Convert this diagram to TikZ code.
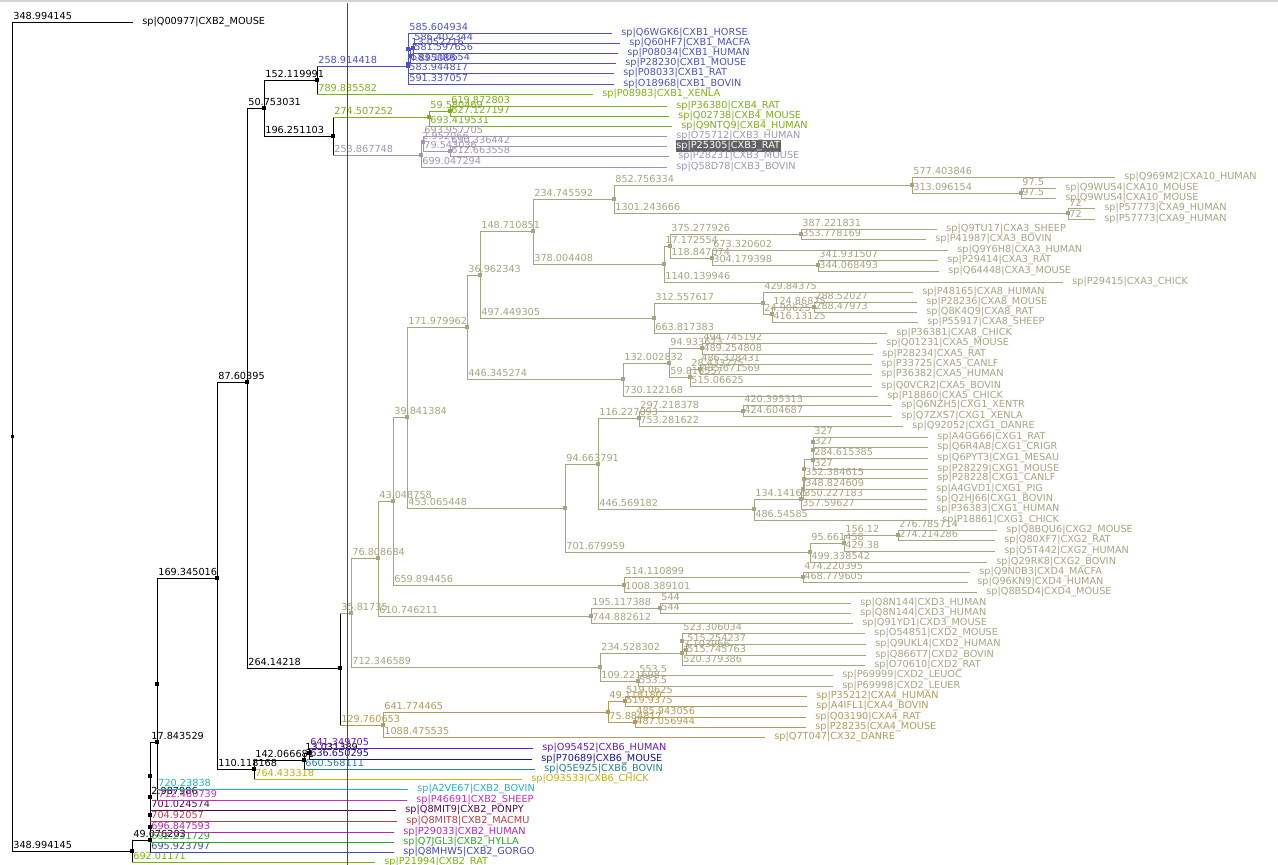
\documentclass[tikz,border=0pt]{standalone}
\usepackage{fontspec}
\setmainfont{DejaVu Sans}
\usetikzlibrary{positioning}
% clade colours
\definecolor{olv}{RGB}{165,165,130}
\definecolor{tan}{RGB}{180,155,90}
\definecolor{cxbone}{RGB}{80,80,190}
\definecolor{grn}{RGB}{125,180,15}
\definecolor{cxbfour}{RGB}{130,170,30}
\definecolor{lav}{RGB}{160,150,180}
\definecolor{bsixh}{RGB}{110,20,200}
\definecolor{bsixm}{RGB}{20,20,160}
\definecolor{bsixb}{RGB}{40,130,140}
\definecolor{bsixc}{RGB}{190,175,20}
\definecolor{btwobov}{RGB}{30,180,190}
\definecolor{btwoshp}{RGB}{195,45,195}
\definecolor{btwopon}{RGB}{80,10,80}
\definecolor{btwomac}{RGB}{190,60,70}
\definecolor{btwohum}{RGB}{180,40,180}
\definecolor{btwohyl}{RGB}{40,170,30}
\definecolor{btwogor}{RGB}{70,70,190}
\definecolor{btworat}{RGB}{120,180,0}
\newcommand\treefont{\fontsize{9.7}{11}\selectfont}
\tikzset{
  blen/.style={anchor=south west,inner sep=0pt,xshift=1pt,yshift=1.5pt,font=\treefont},
  leaftxt/.style={anchor=west,inner xsep=0.5pt,inner ysep=1pt,xshift=8.5pt,font=\treefont},
}
% branch: parent, child, colour, length
\newcommand\br[4]{\draw[#3] (#1) |- (#2); \node[blen,text=#3] at (#1 |- #2) {#4};}
% branch with black vertical
\newcommand\brk[4]{\draw (#1) -- (#1 |- #2); \draw[#3] (#1 |- #2) -- (#2); \node[blen,text=#3] at (#1 |- #2) {#4};}
% leaf: [extra], name, x, y, colour, text
\newcommand\leaf[6][]{\coordinate (#2) at (#3,#4); \node[leaftxt,text=#5,#1] (#2-t) at (#2) {#6};}

\begin{document}
\begin{tikzpicture}[x=1pt,y=-1pt,line width=0.8pt]
\useasboundingbox (0,0) rectangle (1278,865);
\draw[gray!35,line width=2pt] (0,0.5) -- (1278,0.5);

% internal nodes
\coordinate (r0) at (12,436);
\coordinate (n1) at (132,851);
\coordinate (n2) at (150,840);
\coordinate (n3) at (150,827);
\coordinate (n4) at (150,815);
\coordinate (n5) at (150,797);
\coordinate (n6) at (150,776);
\coordinate (n7) at (157,742);
\coordinate (n8) at (157,684);
\coordinate (p217) at (217,578);
\coordinate (p247) at (247,382);
\coordinate (p264) at (264,108);
\coordinate (c1) at (317,80);
\coordinate (c2) at (333,136);
\coordinate (p340) at (340,668);
\coordinate (p254) at (254,769);
\coordinate (p304) at (304,760);
\coordinate (p309) at (309,753);
\coordinate (b0) at (408,66);
\coordinate (ba) at (408,48.5);
\coordinate (bd) at (408,64);
\coordinate (bb) at (410,55.5);
\coordinate (bm) at (413,48);
\coordinate (g0) at (429,117);
\coordinate (g1) at (450,111);
\coordinate (l0) at (421,155);
\coordinate (l1) at (423,142);
\coordinate (l2) at (450,151);
\coordinate (o0) at (351,613);
\coordinate (o1) at (378,558);
\coordinate (o2) at (600,667);
\coordinate (o3) at (393,501);
\coordinate (o4) at (591,616);
\coordinate (o5) at (407,417);
\coordinate (o6) at (624,585);
\coordinate (o7) at (467,327);
\coordinate (o8) at (565,508);
\coordinate (o9) at (480,275);
\coordinate (o10) at (623,379);
\coordinate (o11) at (533,231);
\coordinate (o12) at (654,318);
\coordinate (o13) at (614,199);
\coordinate (o14) at (664,264);
\coordinate (o15) at (912,185);
\coordinate (o16) at (1068,213);
\coordinate (o17) at (1021,193);
\coordinate (o18) at (670,246);
\coordinate (o19) at (801,234);
\coordinate (o20) at (712,258);
\coordinate (o21) at (818,265);
\coordinate (o22) at (763,303);
\coordinate (o23) at (772,314);
\coordinate (o24) at (814,307);
\coordinate (o25) at (669,363);
\coordinate (o26) at (702,348);
\coordinate (o27) at (690,377);
\coordinate (o28) at (700,369);
\coordinate (o29) at (598,464);
\coordinate (o30) at (810,552);
\coordinate (o31) at (639,418);
\coordinate (o32) at (754,509);
\coordinate (o33) at (743,411);
\coordinate (k7) at (801,499);
\coordinate (k6) at (803,489);
\coordinate (k5) at (804,479);
\coordinate (k4) at (804,469);
\coordinate (k3) at (813,459.5);
\coordinate (k2) at (813,450);
\coordinate (k1) at (813,442);
\coordinate (o35) at (844,543);
\coordinate (o36) at (898,535);
\coordinate (o37) at (803,577);
\coordinate (o38) at (660,608);
\coordinate (d3) at (682,653);
\coordinate (d2) at (682,641);
\coordinate (d1) at (686,649.5);
\coordinate (o40) at (638,681);
\coordinate (t0) at (383,725);
\coordinate (t1) at (608,712);
\coordinate (t2) at (625,701);
\coordinate (t3) at (635,722);

% leaves
\leaf{q00977}{133}{22}{black}{sp|Q00977|CXB2\_MOUSE}
\leaf{horse}{612}{33}{cxbone}{sp|Q6WGK6|CXB1\_HORSE}
\leaf{macfa}{620}{43}{cxbone}{sp|Q60HF7|CXB1\_MACFA}
\leaf{human}{618}{53}{cxbone}{sp|P08034|CXB1\_HUMAN}
\leaf{mouse}{616}{63}{cxbone}{sp|P28230|CXB1\_MOUSE}
\leaf{rat}{614}{73}{cxbone}{sp|P08033|CXB1\_RAT}
\leaf{bovin}{614}{84}{cxbone}{sp|O18968|CXB1\_BOVIN}
\leaf{xenla}{593}{94}{grn}{sp|P08983|CXB1\_XENLA}
\leaf{bfourrat}{667}{106}{cxbfour}{sp|P36380|CXB4\_RAT}
\leaf{bfourmouse}{669}{116}{cxbfour}{sp|Q02738|CXB4\_MOUSE}
\leaf{bfourhuman}{672}{126}{cxbfour}{sp|Q9NTQ9|CXB4\_HUMAN}
\leaf{bthreehuman}{667}{136}{lav}{sp|O75712|CXB3\_HUMAN}
\leaf[fill=black!62,text=white]{bthreerat}{667}{146}{lav}{sp|P25305|CXB3\_RAT}
\leaf{bthreemouse}{669}{156}{lav}{sp|P28231|CXB3\_MOUSE}
\leaf{bthreebovin}{667}{167}{lav}{sp|Q58D78|CXB3\_BOVIN}
\leaf{atenh}{1115}{177}{olv}{sp|Q969M2|CXA10\_HUMAN}
\leaf{atenma}{1056}{188}{olv}{sp|Q9WUS4|CXA10\_MOUSE}
\leaf{atenmb}{1056}{198}{olv}{sp|Q9WUS4|CXA10\_MOUSE}
\leaf{aninea}{1095}{208}{olv}{sp|P57773|CXA9\_HUMAN}
\leaf{anineb}{1095}{219}{olv}{sp|P57773|CXA9\_HUMAN}
\leaf{athreesheep}{937}{229}{olv}{sp|Q9TU17|CXA3\_SHEEP}
\leaf{athreebovin}{926}{239}{olv}{sp|P41987|CXA3\_BOVIN}
\leaf{athreehuman}{948}{250}{olv}{sp|Q9Y6H8|CXA3\_HUMAN}
\leaf{athreerat}{938}{260}{olv}{sp|P29414|CXA3\_RAT}
\leaf{athreemouse}{939}{271}{olv}{sp|Q64448|CXA3\_MOUSE}
\leaf{athreechick}{1063}{282}{olv}{sp|P29415|CXA3\_CHICK}
\leaf{aeighthuman}{913}{292}{olv}{sp|P48165|CXA8\_HUMAN}
\leaf{aeightmouse}{917}{302}{olv}{sp|P28236|CXA8\_MOUSE}
\leaf{aeightrat}{917}{312}{olv}{sp|Q8K4Q9|CXA8\_RAT}
\leaf{aeightsheep}{918}{322}{olv}{sp|P55917|CXA8\_SHEEP}
\leaf{aeightchick}{887}{333}{olv}{sp|P36381|CXA8\_CHICK}
\leaf{afivemouse}{877}{343}{olv}{sp|Q01231|CXA5\_MOUSE}
\leaf{afiverat}{873}{354}{olv}{sp|P28234|CXA5\_RAT}
\leaf{afivecanlf}{872}{364}{olv}{sp|P33725|CXA5\_CANLF}
\leaf{afivehuman}{872}{374}{olv}{sp|P36382|CXA5\_HUMAN}
\leaf{afivebovin}{872}{386}{olv}{sp|Q0VCR2|CXA5\_BOVIN}
\leaf{afivechick}{878}{396}{olv}{sp|P18860|CXA5\_CHICK}
\leaf{gonexentr}{892}{405}{olv}{sp|Q6NZH5|CXG1\_XENTR}
\leaf{gonexenla}{892}{416}{olv}{sp|Q7ZXS7|CXG1\_XENLA}
\leaf{gonedanre}{903}{426}{olv}{sp|Q92052|CXG1\_DANRE}
\leaf{gonerat}{928}{437}{olv}{sp|A4GG66|CXG1\_RAT}
\leaf{gonecrigr}{928}{447}{olv}{sp|Q6R4A8|CXG1\_CRIGR}
\leaf{gonemesau}{928}{458}{olv}{sp|Q6PYT3|CXG1\_MESAU}
\leaf{gonemouse}{928}{469}{olv}{sp|P28229|CXG1\_MOUSE}
\leaf{gonecanlf}{928}{478}{olv}{sp|P28228|CXG1\_CANLF}
\leaf{gonepig}{927}{489}{olv}{sp|A4GVD1|CXG1\_PIG}
\leaf{gonebovin}{927}{499}{olv}{sp|Q2HJ66|CXG1\_BOVIN}
\leaf{gonehuman}{927}{509}{olv}{sp|P36383|CXG1\_HUMAN}
\leaf{gonechick}{933}{520}{olv}{sp|P18861|CXG1\_CHICK}
\leaf{gtwomouse}{997}{530}{olv}{sp|Q8BQU6|CXG2\_MOUSE}
\leaf{gtworat}{995}{540}{olv}{sp|Q80XF7|CXG2\_RAT}
\leaf{gtwohuman}{995}{551}{olv}{sp|Q5T442|CXG2\_HUMAN}
\leaf{gtwobovin}{987}{562}{olv}{sp|Q29RK8|CXG2\_BOVIN}
\leaf{dfourmacfa}{970}{572}{olv}{sp|Q9N0B3|CXD4\_MACFA}
\leaf{dfourhuman}{968}{582}{olv}{sp|Q96KN9|CXD4\_HUMAN}
\leaf{dfourmouse}{977}{592}{olv}{sp|Q8BSD4|CXD4\_MOUSE}
\leaf{dthreehumana}{851}{603}{olv}{sp|Q8N144|CXD3\_HUMAN}
\leaf{dthreehumanb}{851}{613}{olv}{sp|Q8N144|CXD3\_HUMAN}
\leaf{dthreemouse}{853}{623}{olv}{sp|Q91YD1|CXD3\_MOUSE}
\leaf{dtwomouse}{865}{633}{olv}{sp|O54851|CXD2\_MOUSE}
\leaf{dtwohuman}{866}{644}{olv}{sp|Q9UKL4|CXD2\_HUMAN}
\leaf{dtwobovin}{866}{655}{olv}{sp|Q866T7|CXD2\_BOVIN}
\leaf{dtworat}{865}{665}{olv}{sp|O70610|CXD2\_RAT}
\leaf{leuoc}{833}{675}{olv}{sp|P69999|CXD2\_LEUOC}
\leaf{leuer}{833}{686}{olv}{sp|P69998|CXD2\_LEUER}
\leaf{afourhuman}{807}{696}{tan}{sp|P35212|CXA4\_HUMAN}
\leaf{afourbovin}{807}{706}{tan}{sp|A4IFL1|CXA4\_BOVIN}
\leaf{afourrat}{806}{717}{tan}{sp|Q03190|CXA4\_RAT}
\leaf{afourmouse}{806}{727}{tan}{sp|P28235|CXA4\_MOUSE}
\leaf{cxdanre}{765}{737}{tan}{sp|Q7T047|CX32\_DANRE}
\leaf{bsixhuman}{533}{748}{bsixh}{sp|O95452|CXB6\_HUMAN}
\leaf{bsixmouse}{532}{759}{bsixm}{sp|P70689|CXB6\_MOUSE}
\leaf{bsixbovin}{535}{769}{bsixb}{sp|Q5E9Z5|CXB6\_BOVIN}
\leaf{bsixchick}{522}{779}{bsixc}{sp|O93533|CXB6\_CHICK}
\leaf{btwobovin}{408}{789}{btwobov}{sp|A2VE67|CXB2\_BOVIN}
\leaf{btwosheep}{407}{800}{btwoshp}{sp|P46691|CXB2\_SHEEP}
\leaf{btwoponpy}{396}{810}{btwopon}{sp|Q8MIT9|CXB2\_PONPY}
\leaf{btwomacmu}{397}{821}{btwomac}{sp|Q8MIT8|CXB2\_MACMU}
\leaf{btwohuman}{394}{832}{btwohum}{sp|P29033|CXB2\_HUMAN}
\leaf{btwohylla}{394}{842}{btwohyl}{sp|Q7JGL3|CXB2\_HYLLA}
\leaf{btwogorgo}{394}{852}{btwogor}{sp|Q8MHW5|CXB2\_GORGO}
\leaf{btworat}{375}{862}{btworat}{sp|P21994|CXB2\_RAT}

% backbone
\br{r0}{q00977}{black}{348.994145}
\br{r0}{n1}{black}{348.994145}
\br{n1}{n2}{black}{49.076203}
\brk{n1}{btworat}{btworat}{692.01171}
\br{n2}{n3}{black}{}
\brk{n2}{btwogorgo}{btwogor}{695.923797}
\br{n3}{n4}{black}{}
\brk{n3}{btwohylla}{btwohyl}{692.231729}
\br{n4}{n5}{black}{2.987986}
\brk{n4}{btwohuman}{btwohum}{696.847593}
\br{n5}{n6}{black}{}
\brk{n5}{btwomacmu}{btwomac}{704.92057}
\br{n6}{n7}{black}{17.843529}
\brk{n6}{btwoponpy}{btwopon}{701.024574}
\br{n7}{n8}{black}{}
\brk{n7}{btwosheep}{btwoshp}{712.480739}
\br{n8}{p217}{black}{169.345016}
\brk{n8}{btwobovin}{btwobov}{720.23838}
\br{p217}{p247}{black}{87.60395}
\br{p217}{p254}{black}{110.118168}
\br{p247}{p264}{black}{50.753031}
\br{p247}{p340}{black}{264.14218}
\br{p264}{c1}{black}{152.119991}
\br{p264}{c2}{black}{196.251103}
\brk{c1}{b0}{cxbone}{258.914418}
\brk{c1}{xenla}{grn}{789.835582}
\brk{c2}{g0}{cxbfour}{274.507252}
\brk{c2}{l0}{lav}{253.867748}
\br{p254}{p304}{black}{142.066681}
\brk{p254}{bsixchick}{bsixc}{764.433318}
\br{p304}{p309}{black}{13.031389}
\brk{p304}{bsixbovin}{bsixb}{660.568111}
\brk{p309}{bsixhuman}{bsixh}{641.349705}
\brk{p309}{bsixmouse}{bsixm}{636.650295}
\brk{p340}{o0}{olv}{35.81735}
\brk{p340}{t0}{tan}{129.760653}

% CXB1
\br{b0}{ba}{cxbone}{}
\br{b0}{bovin}{cxbone}{591.337057}
\br{ba}{horse}{cxbone}{585.604934}
\br{ba}{bd}{cxbone}{4.895086}
\br{bd}{bb}{cxbone}{}
\br{bd}{rat}{cxbone}{583.944817}
\br{bb}{bm}{cxbone}{13.052216}
\br{bb}{mouse}{cxbone}{583.100654}
\br{bm}{macfa}{cxbone}{586.402344}
\br{bm}{human}{cxbone}{581.597656}

% CXB4 and CXB3
\br{g0}{g1}{cxbfour}{59.580469}
\br{g0}{bfourhuman}{cxbfour}{693.419531}
\br{g1}{bfourrat}{cxbfour}{619.872803}
\br{g1}{bfourmouse}{cxbfour}{627.127197}
\br{l0}{l1}{lav}{2.952066}
\br{l0}{bthreebovin}{lav}{699.047294}
\br{l1}{bthreehuman}{lav}{693.957705}
\br{l1}{l2}{lav}{79.543036}
\br{l2}{bthreerat}{lav}{690.336442}
\br{l2}{bthreemouse}{lav}{612.663558}

% alpha / gamma / delta clade
\br{o0}{o1}{olv}{76.808684}
\br{o0}{o2}{olv}{712.346589}
\br{o1}{o3}{olv}{43.048758}
\br{o1}{o4}{olv}{610.746211}
\br{o3}{o5}{olv}{39.841384}
\br{o3}{o6}{olv}{659.894456}
\br{o5}{o7}{olv}{171.979962}
\br{o5}{o8}{olv}{453.065448}
\br{o7}{o9}{olv}{36.962343}
\br{o7}{o10}{olv}{446.345274}
\br{o9}{o11}{olv}{148.710851}
\br{o9}{o12}{olv}{497.449305}
\br{o11}{o13}{olv}{234.745592}
\br{o11}{o14}{olv}{378.004408}
\br{o13}{o15}{olv}{852.756334}
\br{o13}{o16}{olv}{1301.243666}
\br{o15}{atenh}{olv}{577.403846}
\br{o15}{o17}{olv}{313.096154}
\br{o17}{atenma}{olv}{97.5}
\br{o17}{atenmb}{olv}{97.5}
\br{o16}{aninea}{olv}{72}
\br{o16}{anineb}{olv}{72}
\br{o14}{o18}{olv}{17.172554}
\br{o14}{athreechick}{olv}{1140.139946}
\br{o18}{o19}{olv}{375.277926}
\br{o18}{o20}{olv}{118.847074}
\br{o19}{athreesheep}{olv}{387.221831}
\br{o19}{athreebovin}{olv}{353.778169}
\br{o20}{athreehuman}{olv}{673.320602}
\br{o20}{o21}{olv}{304.179398}
\br{o21}{athreerat}{olv}{341.931507}
\br{o21}{athreemouse}{olv}{344.068493}
\br{o12}{o22}{olv}{312.557617}
\br{o12}{aeightchick}{olv}{663.817383}
\br{o22}{aeighthuman}{olv}{429.84375}
\br{o22}{o23}{olv}{24.90625}
\br{o23}{o24}{olv}{124.86875}
\br{o23}{aeightsheep}{olv}{416.13125}
\br{o24}{aeightmouse}{olv}{288.52027}
\br{o24}{aeightrat}{olv}{288.47973}
\br{o10}{o25}{olv}{132.002832}
\br{o10}{afivechick}{olv}{730.122168}
\br{o25}{o26}{olv}{94.933673}
\br{o25}{o27}{olv}{59.816557}
\br{o26}{afivemouse}{olv}{494.745192}
\br{o26}{afiverat}{olv}{489.254808}
\br{o27}{o28}{olv}{28.433275}
\br{o27}{afivebovin}{olv}{515.06625}
\br{o28}{afivecanlf}{olv}{486.328431}
\br{o28}{afivehuman}{olv}{485.671569}
\br{o8}{o29}{olv}{94.663791}
\br{o8}{o30}{olv}{701.679959}
\br{o29}{o31}{olv}{116.227093}
\br{o29}{o32}{olv}{446.569182}
\br{o31}{o33}{olv}{297.218378}
\br{o31}{gonedanre}{olv}{753.281622}
\br{o33}{gonexentr}{olv}{420.395313}
\br{o33}{gonexenla}{olv}{424.604687}
\br{o32}{k7}{olv}{134.14165}
\br{o32}{gonechick}{olv}{486.54585}
\br{k7}{k6}{olv}{}
\br{k7}{gonehuman}{olv}{357.59627}
\br{k6}{k5}{olv}{}
\br{k6}{gonebovin}{olv}{350.227183}
\br{k5}{k4}{olv}{}
\br{k5}{gonepig}{olv}{348.824609}
\br{k4}{k3}{olv}{}
\br{k4}{gonecanlf}{olv}{352.384615}
\br{k3}{k2}{olv}{}
\br{k3}{gonemouse}{olv}{327}
\br{k2}{k1}{olv}{}
\br{k2}{gonemesau}{olv}{284.615385}
\br{k1}{gonerat}{olv}{327}
\br{k1}{gonecrigr}{olv}{327}
\br{o30}{o35}{olv}{95.661458}
\br{o30}{gtwobovin}{olv}{499.338542}
\br{o35}{o36}{olv}{156.12}
\br{o35}{gtwohuman}{olv}{429.38}
\br{o36}{gtwomouse}{olv}{276.785714}
\br{o36}{gtworat}{olv}{274.214286}
\br{o6}{o37}{olv}{514.110899}
\br{o6}{dfourmouse}{olv}{1008.389101}
\br{o37}{dfourmacfa}{olv}{474.220395}
\br{o37}{dfourhuman}{olv}{468.779605}
\br{o4}{o38}{olv}{195.117388}
\br{o4}{dthreemouse}{olv}{744.882612}
\br{o38}{dthreehumana}{olv}{544}
\br{o38}{dthreehumanb}{olv}{544}
\br{o2}{d3}{olv}{234.528302}
\br{o2}{o40}{olv}{109.221698}
\br{d3}{d2}{olv}{}
\br{d3}{dtworat}{olv}{520.379386}
\br{d2}{dtwomouse}{olv}{523.306034}
\br{d2}{d1}{olv}{3.103966}
\br{d1}{dtwohuman}{olv}{515.254237}
\br{d1}{dtwobovin}{olv}{515.745763}
\br{o40}{leuoc}{olv}{553.5}
\br{o40}{leuer}{olv}{553.5}

% CXA4 / CX32
\br{t0}{t1}{tan}{641.774465}
\br{t0}{cxdanre}{tan}{1088.475535}
\br{t1}{t2}{tan}{49.118180}
\br{t1}{t3}{tan}{75.884817}
\br{t2}{afourhuman}{tan}{519.0625}
\br{t2}{afourbovin}{tan}{519.9375}
\br{t3}{afourrat}{tan}{485.943056}
\br{t3}{afourmouse}{tan}{487.056944}

% node markers
\foreach \n in {n1,n2,n3,n4,n5,n6,n7,n8,p217,p247,p264,c1,c2,p340,p254,p304,p309}
  \fill (\n) +(-2,-2) rectangle +(2,2);
\fill (r0) +(-1.5,-1.5) rectangle +(1.5,1.5);
\foreach \n in {b0,ba,bd,bb,bm}
  \fill[cxbone] (\n) +(-2,-2) rectangle +(2,2);
\foreach \n in {g0,g1}
  \fill[cxbfour] (\n) +(-2,-2) rectangle +(2,2);
\foreach \n in {l0,l1,l2}
  \fill[lav] (\n) +(-2,-2) rectangle +(2,2);
\foreach \n in {o0,o1,o2,o3,o4,o5,o6,o7,o8,o9,o10,o11,o12,o13,o14,o15,o16,o17,o18,o19,o20,o21,o22,o23,o24,o25,o26,o27,o28,o29,o30,o31,o32,o33,o35,o36,o37,o38,o40,k1,k2,k3,k4,k5,k6,k7,d1,d2,d3}
  \fill[olv] (\n) +(-2,-2) rectangle +(2,2);
\foreach \n in {t0,t1,t2,t3}
  \fill[tan] (\n) +(-2,-2) rectangle +(2,2);

% cursor line
\coordinate (cur-top) at (347,3);
\coordinate (cur-bot) at (347,865);
\draw[red,line width=0.7pt] (cur-top) -- (cur-bot);
\end{tikzpicture}
\end{document}
